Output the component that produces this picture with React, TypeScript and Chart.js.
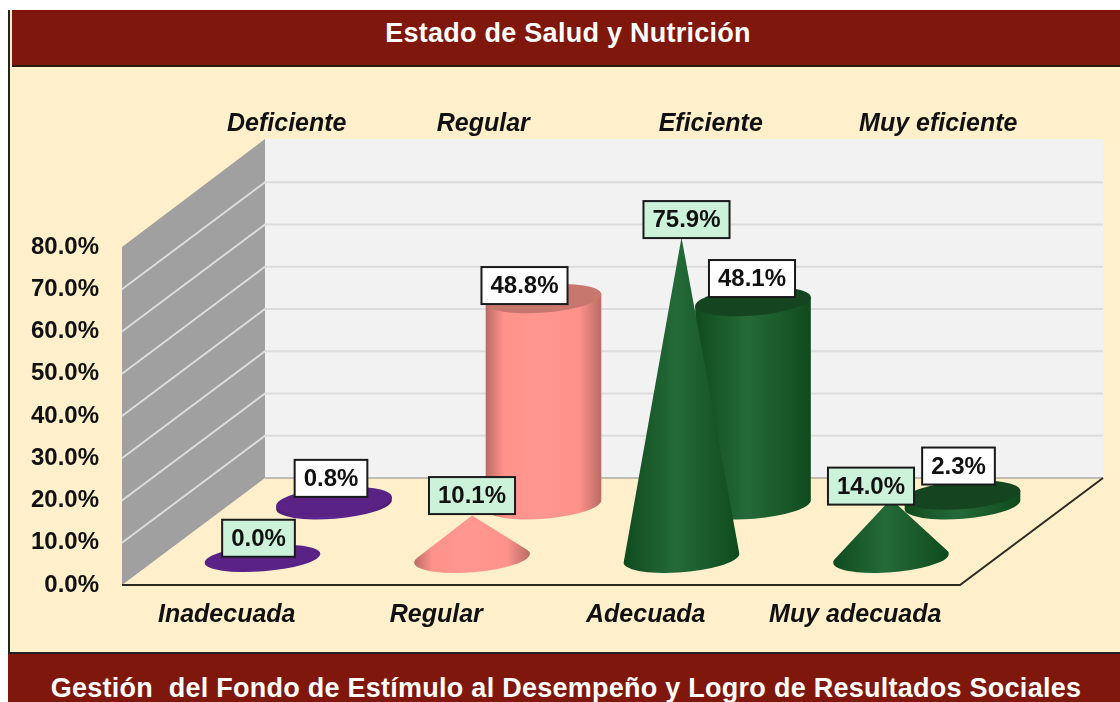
import React, { useEffect, useRef } from "react";
import { Chart, registerables } from "chart.js";

Chart.register(...registerables);

const categories = ["Inadecuada", "Regular", "Adecuada", "Muy adecuada"];
const seriesNames = ["Deficiente", "Regular", "Eficiente", "Muy eficiente"];
const frontValues = [0.0, 10.1, 75.9, 14.0];
const backValues = [0.8, 48.8, 48.1, 2.3];
const yTicks = { min: 0, max: 80, step: 10 };

const W = 1120;
const H = 702;
const AREA = { left: 122, right: 960, top: 247, bottom: 585 };
const DEPTH = { dx: 143, dy: -107 };
const FRONT_POS = 0.25;
const BACK_POS = 0.75;
const RX = 58;
const RY = 14;
const ROT = -0.08;
const FONT = '"Liberation Sans", Arial, sans-serif';
const CREAM = "#fff0cb";
const MAROON = "#80170d";

const palette = [
  { mid: "#5a2285", light: "#5f2590", dark: "#4d1c73", top: "#5a2285" },
  { mid: "#ff938c", light: "#ff968f", dark: "#b96b65", top: "#c8776f" },
  { mid: "#185628", light: "#246a38", dark: "#0e4a1c", top: "#154520" },
  { mid: "#185628", light: "#246a38", dark: "#0e4a1c", top: "#154520" },
];

// label box offset from the top of its mark
const frontLabelOffset = [[-4, -20], [0, -20], [5, -18], [-20, -13]];
const backLabelOffset = [[-3, -23], [-19, -13], [-1, -23], [-4, -29]];
const seriesLabelOffset = [60, 47, 65, 83];

function bodyGradient(ctx: CanvasRenderingContext2D, cx: number, c: (typeof palette)[number]) {
  const g = ctx.createLinearGradient(cx - RX, 0, cx + RX, 0);
  g.addColorStop(0, c.dark);
  g.addColorStop(0.16, c.mid);
  g.addColorStop(0.45, c.light);
  g.addColorStop(0.8, c.mid);
  g.addColorStop(1, c.dark);
  return g;
}

function ellipsePoint(cx: number, cy: number, t: number) {
  const ex = RX * Math.cos(t);
  const ey = RY * Math.sin(t);
  return {
    x: cx + ex * Math.cos(ROT) - ey * Math.sin(ROT),
    y: cy + ex * Math.sin(ROT) + ey * Math.cos(ROT),
  };
}

function tangentAngle(cx: number, cy: number, tip: number, from: number, to: number, sign: number) {
  let best = from;
  let bestSlope = -Infinity;
  for (let k = 0; k <= 180; k++) {
    const t = from + ((to - from) * k) / 180;
    const p = ellipsePoint(cx, cy, t);
    const slope = (sign * (p.x - cx)) / Math.max(p.y - tip, 0.01);
    if (slope > bestSlope) {
      bestSlope = slope;
      best = t;
    }
  }
  return best;
}

function drawCone(ctx: CanvasRenderingContext2D, cx: number, cy: number, tip: number, c: (typeof palette)[number]) {
  if (cy - tip < 1) {
    ctx.fillStyle = c.mid;
    ctx.beginPath();
    ctx.ellipse(cx, cy, RX, RY - 1, ROT, 0, Math.PI * 2);
    ctx.fill();
    return;
  }
  ctx.fillStyle = bodyGradient(ctx, cx, c);
  const tl = tangentAngle(cx, cy, tip, Math.PI / 2, (3 * Math.PI) / 2, -1);
  const tr = tangentAngle(cx, cy, tip, -Math.PI / 2, Math.PI / 2, 1);
  ctx.beginPath();
  ctx.moveTo(cx, tip);
  ctx.ellipse(cx, cy, RX, RY, ROT, tl, tr, true);
  ctx.closePath();
  ctx.fill();
}

function drawCylinder(ctx: CanvasRenderingContext2D, cx: number, cy: number, top: number, c: (typeof palette)[number]) {
  const l = ellipsePoint(cx, top, Math.PI);
  const r = ellipsePoint(cx, top, 0);
  ctx.fillStyle = bodyGradient(ctx, cx, c);
  ctx.beginPath();
  ctx.moveTo(l.x, l.y);
  ctx.ellipse(cx, cy, RX, RY, ROT, Math.PI, 0, true);
  ctx.lineTo(r.x, r.y);
  ctx.closePath();
  ctx.fill();
  ctx.fillStyle = c.top;
  ctx.beginPath();
  ctx.ellipse(cx, top, RX, RY, ROT, 0, Math.PI * 2);
  ctx.fill();
}

function drawLabel(ctx: CanvasRenderingContext2D, text: string, cx: number, cy: number, fill: string) {
  ctx.font = `bold 24px ${FONT}`;
  const w = ctx.measureText(text).width + 18;
  const h = 37;
  ctx.fillStyle = fill;
  ctx.strokeStyle = "#1a1a1a";
  ctx.lineWidth = 2;
  ctx.fillRect(cx - w / 2, cy - h / 2, w, h);
  ctx.strokeRect(cx - w / 2, cy - h / 2, w, h);
  ctx.fillStyle = "#111";
  ctx.textAlign = "center";
  ctx.textBaseline = "middle";
  ctx.fillText(text, cx, cy + 1);
}

const scene3d = {
  id: "scene3d",
  beforeDatasetsDraw(chart: any) {
    const { ctx } = chart;
    const y = chart.scales.y;
    const x0 = AREA.left;
    const x1 = AREA.right;
    const floor = y.getPixelForValue(yTicks.min);
    const roof = y.getPixelForValue(yTicks.max);
    const { dx, dy } = DEPTH;
    ctx.save();
    // back wall
    ctx.fillStyle = "#f2f2f2";
    ctx.fillRect(x0 + dx, roof + dy - 1, x1 - x0, floor - roof + 1);
    // side wall
    ctx.fillStyle = "#a0a0a0";
    ctx.beginPath();
    ctx.moveTo(x0, roof);
    ctx.lineTo(x0 + dx, roof + dy - 1);
    ctx.lineTo(x0 + dx, floor + dy);
    ctx.lineTo(x0, floor);
    ctx.closePath();
    ctx.fill();
    // gridlines
    for (let v = yTicks.min + yTicks.step; v <= yTicks.max - yTicks.step; v += yTicks.step) {
      const p = y.getPixelForValue(v);
      ctx.strokeStyle = "#dcdcdc";
      ctx.lineWidth = 2;
      ctx.beginPath();
      ctx.moveTo(x0, p);
      ctx.lineTo(x0 + dx, p + dy);
      ctx.lineTo(x1 + dx, p + dy);
      ctx.stroke();
    }
    // floor edges
    ctx.strokeStyle = "#bdbdb0";
    ctx.lineWidth = 2;
    ctx.beginPath();
    ctx.moveTo(x0 + dx, floor + dy);
    ctx.lineTo(x1 + dx, floor + dy);
    ctx.stroke();
    ctx.strokeStyle = "#2b2b20";
    ctx.beginPath();
    ctx.moveTo(x0, floor);
    ctx.lineTo(x1, floor);
    ctx.lineTo(x1 + dx, floor + dy);
    ctx.stroke();
    // series names along the back
    ctx.font = `italic bold 25px ${FONT}`;
    ctx.fillStyle = "#111";
    ctx.textAlign = "center";
    ctx.textBaseline = "middle";
    seriesNames.forEach((name, i) => {
      ctx.fillText(name, chart.scales.x.getPixelForValue(i) + seriesLabelOffset[i], 124);
    });
    ctx.restore();
  },
  beforeDatasetDraw(chart: any, args: any) {
    const { ctx } = chart;
    const isFront = args.index === 0;
    const pos = isFront ? FRONT_POS : BACK_POS;
    ctx.save();
    args.meta.data.forEach((el: any, i: number) => {
      const cx = el.x + DEPTH.dx * pos;
      const cy = el.base + DEPTH.dy * pos;
      const top = el.y + DEPTH.dy * pos;
      if (isFront) drawCone(ctx, cx, cy, top, palette[i]);
      else drawCylinder(ctx, cx, cy, top, palette[i]);
    });
    ctx.restore();
    return false;
  },
  afterDatasetsDraw(chart: any) {
    const { ctx } = chart;
    ctx.save();
    [1, 0].forEach((d) => {
      const isFront = d === 0;
      const pos = isFront ? FRONT_POS : BACK_POS;
      const values = isFront ? frontValues : backValues;
      const offs = isFront ? frontLabelOffset : backLabelOffset;
      chart.getDatasetMeta(d).data.forEach((el: any, i: number) => {
        const cx = el.x + DEPTH.dx * pos + offs[i][0];
        const cy = el.y + DEPTH.dy * pos + offs[i][1];
        drawLabel(ctx, values[i].toFixed(1) + "%", cx, cy, isFront ? "#cdf2da" : "#ffffff");
      });
    });
    ctx.restore();
  },
};

export default function App() {
  const ref = useRef<HTMLCanvasElement | null>(null);
  useEffect(() => {
    if (!ref.current) return;
    const chart = new Chart(ref.current, {
      type: "bar",
      data: {
        labels: categories,
        datasets: [
          { label: "Gestión", data: frontValues, backgroundColor: palette.map((p) => p.mid), grouped: false },
          { label: "Logro", data: backValues, backgroundColor: palette.map((p) => p.mid), grouped: false },
        ],
      },
      options: {
        responsive: false,
        animation: false,
        layout: { padding: { left: 0, top: AREA.top, right: W - AREA.right, bottom: 0 } },
        plugins: { legend: { display: false }, tooltip: { enabled: false }, title: { display: false } },
        scales: {
          x: {
            stacked: false,
            grid: { display: false },
            border: { display: false },
            afterFit: (s: any) => { s.height = H - AREA.bottom; },
            ticks: {
              color: "#111",
              maxRotation: 0,
              padding: 7,
              font: { family: FONT, size: 25, weight: "bold", style: "italic" },
            },
          },
          y: {
            min: yTicks.min,
            max: yTicks.max,
            grid: { display: false },
            border: { display: false },
            afterFit: (s: any) => { s.width = AREA.left; },
            ticks: {
              stepSize: yTicks.step,
              color: "#111",
              padding: 15,
              font: { family: FONT, size: 24, weight: "bold" },
              callback: (v: any) => Number(v).toFixed(1) + "%",
            },
          },
        },
      },
      plugins: [scene3d],
    } as any);
    return () => chart.destroy();
  }, []);

  const band: React.CSSProperties = {
    position: "absolute",
    background: MAROON,
    color: "#fff",
    fontFamily: FONT,
    fontWeight: "bold",
    textAlign: "center",
    whiteSpace: "pre",
    boxSizing: "border-box",
    fontSize: 27,
    letterSpacing: "0.26px",
  };

  return (
    <div style={{ position: "absolute", left: 0, top: 0, width: W, height: H, overflow: "hidden", background: "#fff", filter: "blur(0.4px)" }}>
      <div style={{ position: "absolute", left: 8, top: 10, width: W - 8, height: H - 10, background: CREAM, borderLeft: "2px solid #222", boxSizing: "border-box" }} />
      <div style={{ ...band, left: 12, top: 10, width: W - 12, height: 57, lineHeight: "47px", borderBottom: "2px solid #2a1a08", paddingLeft: 4 }}>
        Estado de Salud y Nutrición
      </div>
      <div style={{ ...band, left: 8, top: 652, width: W - 8, height: 50, lineHeight: "68px", borderTop: "2px solid #222", paddingLeft: 4 }}>
        Gestión  del Fondo de Estímulo al Desempeño y Logro de Resultados Sociales
      </div>
      <canvas ref={ref} width={W} height={H} style={{ position: "absolute", left: 0, top: 0, display: "block" }} />
    </div>
  );
}
